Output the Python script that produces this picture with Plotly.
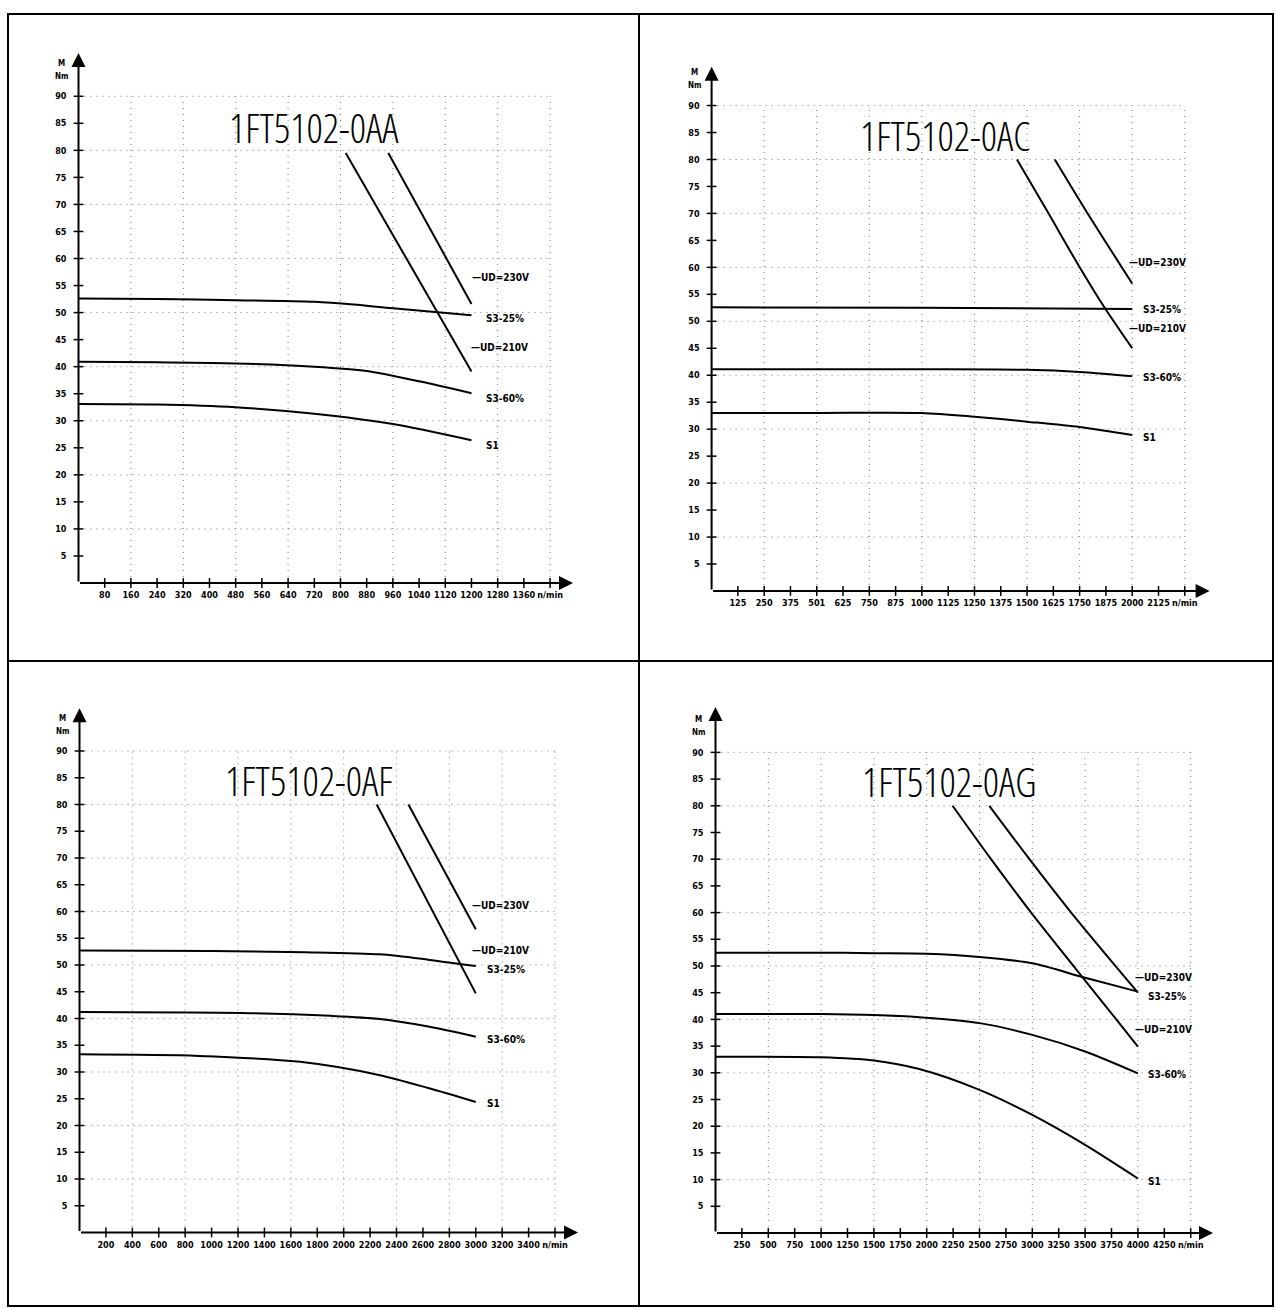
import plotly.graph_objects as go

FIG_W, FIG_H = 1277, 1309

# ---------------- shared tick labels ----------------
torque_ticks = [5, 10, 15, 20, 25, 30, 35, 40, 45, 50, 55, 60, 65, 70, 75, 80, 85, 90]
torque_grid = [10, 20, 30, 40, 50, 60, 70, 80, 90]

# ---------------- 1FT5102-0AA ----------------
aa_speed_ticks = [80, 160, 240, 320, 400, 480, 560, 640, 720, 800, 880, 960,
                  1040, 1120, 1200, 1280, 1360]
aa_speed_grid = [160, 320, 480, 640, 800, 960, 1120, 1280, 1440]
aa_s3_25_n = [0, 240, 480, 720, 840, 960, 1200]
aa_s3_25_m = [52.6, 52.5, 52.3, 52.0, 51.5, 50.8, 49.5]
aa_s3_60_n = [0, 240, 480, 720, 880, 1040, 1200]
aa_s3_60_m = [40.9, 40.8, 40.6, 40.0, 39.2, 37.3, 35.1]
aa_s1_n = [0, 240, 480, 720, 960, 1200]
aa_s1_m = [33.1, 33.0, 32.5, 31.3, 29.4, 26.4]
aa_ud230_n = [946, 1200]
aa_ud230_m = [79.5, 51.6]
aa_ud210_n = [816, 1200]
aa_ud210_m = [79.5, 39.1]

# ---------------- 1FT5102-0AC ----------------
ac_speed_ticks = [125, 250, 375, 500, 625, 750, 875, 1000, 1125, 1250, 1375,
                  1500, 1625, 1750, 1875, 2000, 2125]
ac_speed_labels = ["125", "250", "375", "501", "625", "750", "875", "1000", "1125",
                   "1250", "1375", "1500", "1625", "1750", "1875", "2000", "2125"]
ac_speed_grid = [250, 500, 750, 1000, 1250, 1500, 1750, 2000, 2250]
ac_s3_25_n = [0, 1000, 2000]
ac_s3_25_m = [52.6, 52.5, 52.3]
ac_s3_60_n = [0, 1000, 1500, 1750, 2000]
ac_s3_60_m = [41.1, 41.1, 41.0, 40.6, 39.8]
ac_s1_n = [0, 500, 1000, 1250, 1500, 1750, 2000]
ac_s1_m = [33.0, 33.0, 33.0, 32.3, 31.4, 30.4, 28.9]
ac_ud230_n = [1632, 1780, 2000]
ac_ud230_m = [80.0, 70.5, 57.0]
ac_ud210_n = [1452, 1599, 1746, 1869, 2000]
ac_ud210_m = [80.0, 70.2, 60.3, 52.5, 45.0]

# ---------------- 1FT5102-0AF ----------------
af_speed_ticks = [200, 400, 600, 800, 1000, 1200, 1400, 1600, 1800, 2000, 2200,
                  2400, 2600, 2800, 3000, 3200, 3400]
af_speed_grid = [400, 800, 1200, 1600, 2000, 2400, 2800, 3200, 3600]
af_s3_25_n = [0, 1000, 1700, 2275, 2640, 3000]
af_s3_25_m = [52.7, 52.6, 52.4, 52.0, 51.0, 49.8]
af_s3_60_n = [0, 1300, 1900, 2275, 2640, 3000]
af_s3_60_m = [41.2, 41.0, 40.5, 39.9, 38.5, 36.6]
af_s1_n = [0, 900, 1670, 2275, 2640, 3000]
af_s1_m = [33.3, 33.0, 31.9, 29.4, 27.0, 24.4]
af_ud230_n = [2490, 3000]
af_ud230_m = [80.0, 56.7]
af_ud210_n = [2250, 3000]
af_ud210_m = [80.0, 44.7]

# ---------------- 1FT5102-0AG ----------------
ag_speed_ticks = [250, 500, 750, 1000, 1250, 1500, 1750, 2000, 2250, 2500, 2750,
                  3000, 3250, 3500, 3750, 4000, 4250]
ag_speed_grid = [500, 1000, 1500, 2000, 2500, 3000, 3500, 4000, 4500]
ag_s3_25_n = [0, 1000, 1500, 2000, 2500, 3000, 3500, 4000]
ag_s3_25_m = [52.5, 52.5, 52.4, 52.3, 51.7, 50.5, 47.8, 45.2]
ag_s3_60_n = [0, 1000, 1500, 1929, 2500, 3000, 3500, 4000]
ag_s3_60_m = [41.0, 41.0, 40.8, 40.4, 39.3, 37.1, 34.0, 29.9]
ag_s1_n = [0, 1000, 1500, 1929, 2500, 3000, 3500, 4000]
ag_s1_m = [33.0, 32.9, 32.3, 30.7, 26.8, 22.1, 16.5, 10.2]
ag_ud230_n = [2593, 2973, 3368, 4000]
ag_ud230_m = [80.0, 70.0, 60.0, 45.0]
ag_ud210_n = [2245, 2609, 2989, 3795, 4000]
ag_ud210_m = [80.0, 70.0, 60.0, 40.0, 34.9]

curve_names = ["S3-25%", "S3-60%", "S1", "—UD=230V", "—UD=210V"]

panels = [
    dict(title="1FT5102-0AA",
         ticks=aa_speed_ticks, labels=[str(v) for v in aa_speed_ticks], nmin_tick=1440,
         grid=aa_speed_grid,
         curves=[(aa_s3_25_n, aa_s3_25_m), (aa_s3_60_n, aa_s3_60_m), (aa_s1_n, aa_s1_m),
                 (aa_ud230_n, aa_ud230_m), (aa_ud210_n, aa_ud210_m)],
         label_pos=[(1237, 49.0), (1237, 34.1), (1237, 25.5), (1196, 56.4), (1191, 43.5)],
         title_pos=(719, 84.3),
         box=dict(left=78.5, right=573, bottom=583, top=53), xmax=1510, ymax=98.0),
    dict(title="1FT5102-0AC",
         ticks=ac_speed_ticks, labels=ac_speed_labels, nmin_tick=2250,
         grid=ac_speed_grid,
         curves=[(ac_s3_25_n, ac_s3_25_m), (ac_s3_60_n, ac_s3_60_m), (ac_s1_n, ac_s1_m),
                 (ac_ud230_n, ac_ud230_m), (ac_ud210_n, ac_ud210_m)],
         label_pos=[(2041, 52.2), (2041, 39.5), (2041, 28.4), (1975, 60.9), (1975, 48.6)],
         title_pos=(1110, 84.5),
         box=dict(left=711.6, right=1209.6, bottom=591, top=66.7), xmax=2368, ymax=97.2),
    dict(title="1FT5102-0AF",
         ticks=af_speed_ticks, labels=[str(v) for v in af_speed_ticks], nmin_tick=3600,
         grid=af_speed_grid,
         curves=[(af_s3_25_n, af_s3_25_m), (af_s3_60_n, af_s3_60_m), (af_s1_n, af_s1_m),
                 (af_ud230_n, af_ud230_m), (af_ud210_n, af_ud210_m)],
         label_pos=[(3070, 49.2), (3070, 36.0), (3070, 24.2), (2956, 61.2), (2956, 52.7)],
         title_pos=(1737, 84.4),
         box=dict(left=79.5, right=578, bottom=1232.5, top=708.2), xmax=3774, ymax=98.0),
    dict(title="1FT5102-0AG",
         ticks=ag_speed_ticks, labels=[str(v) for v in ag_speed_ticks], nmin_tick=4500,
         grid=ag_speed_grid,
         curves=[(ag_s3_25_n, ag_s3_25_m), (ag_s3_60_n, ag_s3_60_m), (ag_s1_n, ag_s1_m),
                 (ag_ud230_n, ag_ud230_m), (ag_ud210_n, ag_ud210_m)],
         label_pos=[(4079, 44.3), (4079, 29.6), (4079, 9.6), (3953, 47.9), (3953, 38.1)],
         title_pos=(2211, 84.5),
         box=dict(left=715.5, right=1213, bottom=1233, top=707), xmax=4711, ymax=98.5),
]

CONDENSED = "'DejaVu Sans Condensed', 'DejaVu Sans', sans-serif"
BOLD_SMALL = dict(family=CONDENSED, size=9, color="black", weight=700)
LABEL_FONT = dict(family=CONDENSED, size=10, color="black", weight=700)
TITLE_FONT = dict(family="'Open Sans', sans-serif", size=40, color="black", weight=300)

fig = go.Figure()
layout = dict(width=FIG_W, height=FIG_H, margin=dict(l=0, r=0, t=0, b=0),
              paper_bgcolor="white", plot_bgcolor="rgba(0,0,0,0)",
              showlegend=False)
shapes = []
annotations = []

for i, p in enumerate(panels, start=1):
    xa = "x" if i == 1 else f"x{i}"
    ya = "y" if i == 1 else f"y{i}"
    xkey = "xaxis" if i == 1 else f"xaxis{i}"
    ykey = "yaxis" if i == 1 else f"yaxis{i}"
    b = p["box"]
    layout[xkey] = dict(
        domain=[b["left"] / FIG_W, b["right"] / FIG_W], range=[0, p["xmax"]],
        anchor=ya, showgrid=False, zeroline=False, showline=False,
        tickmode="array", tickvals=p["ticks"] + [p["nmin_tick"]],
        ticktext=p["labels"] + ["n/min"], ticks="", tickangle=0,
        ticklabelstandoff=5, tickfont=BOLD_SMALL, fixedrange=True)
    layout[ykey] = dict(
        domain=[1 - b["bottom"] / FIG_H, 1 - b["top"] / FIG_H], range=[0, p["ymax"]],
        anchor=xa, showgrid=False, zeroline=False, showline=False,
        tickmode="array", tickvals=torque_ticks,
        ticktext=[str(v) for v in torque_ticks], ticks="",
        ticklabelstandoff=11, tickfont=BOLD_SMALL, fixedrange=True)

    # dotted grid
    grid_end = p["grid"][-1]
    grid_line = dict(color="#7a7a7a", width=1, dash="1px,5px")
    for gx in p["grid"]:
        shapes.append(dict(type="line", xref=xa, yref=ya, x0=gx, x1=gx, y0=0, y1=90,
                           layer="below", line=grid_line))
    for gy in torque_grid:
        shapes.append(dict(type="line", xref=xa, yref=ya, x0=0, x1=grid_end, y0=gy, y1=gy,
                           layer="below", line=grid_line))

    # characteristic curves
    for k, (n, m) in enumerate(p["curves"]):
        fig.add_trace(go.Scatter(
            x=n, y=m, mode="lines", xaxis=xa, yaxis=ya, hoverinfo="skip",
            line=dict(color="black", width=2, shape="spline", smoothing=0.8)))
        lx, ly = p["label_pos"][k]
        annotations.append(dict(x=lx, y=ly, xref=xa, yref=ya, text=curve_names[k],
                                showarrow=False, xanchor="left", yanchor="middle",
                                font=LABEL_FONT))

    # tick crosses on both axes
    xt = p["ticks"] + [p["nmin_tick"]]
    fig.add_trace(go.Scatter(
        x=xt, y=[0] * len(xt), mode="markers", xaxis=xa, yaxis=ya, hoverinfo="skip",
        cliponaxis=False,
        marker=dict(symbol="line-ns", size=7, color="black",
                    line=dict(width=1.5, color="black"))))
    fig.add_trace(go.Scatter(
        x=[0] * len(torque_ticks), y=torque_ticks, mode="markers", xaxis=xa, yaxis=ya,
        hoverinfo="skip", cliponaxis=False,
        marker=dict(symbol="line-ew", size=7, color="black",
                    line=dict(width=1.5, color="black"))))

    # axes drawn as arrows
    for tip in ((p["xmax"], 0), (0, p["ymax"])):
        annotations.append(dict(x=tip[0], y=tip[1], ax=0, ay=0, xref=xa, yref=ya,
                                axref=xa, ayref=ya, text="", showarrow=True,
                                arrowhead=2, arrowsize=1.4, arrowwidth=2,
                                arrowcolor="black", standoff=0, startstandoff=0))

    # torque unit as a fraction M / Nm
    unit_font = dict(family=CONDENSED, size=8, color="black", weight=700)
    annotations.append(dict(x=0, y=90, xref=xa, yref=ya, text="M", showarrow=False,
                            xshift=-17, yshift=33, font=unit_font))
    annotations.append(dict(x=0, y=90, xref=xa, yref=ya, text="Nm", showarrow=False,
                            xshift=-17, yshift=20, font=unit_font))
    shapes.append(dict(type="line", xref=xa, yref=ya, xsizemode="pixel", ysizemode="pixel",
                       xanchor=0, yanchor=90, x0=-23, x1=-11, y0=27, y1=27,
                       line=dict(color="black", width=1)))

    # motor type title in a thin condensed face
    tx, ty = p["title_pos"]
    annotations.append(dict(x=tx, y=ty, xref=xa, yref=ya,
                            text=f'<span style="font-stretch:condensed">{p["title"]}</span>',
                            showarrow=False, xanchor="center", yanchor="middle",
                            font=TITLE_FONT))

# sheet frame and quadrant dividers
def fx(px):
    return px / FIG_W


def fy(py):
    return 1 - py / FIG_H


frame = dict(color="black", width=2)
shapes.append(dict(type="rect", xref="paper", yref="paper",
                   x0=fx(8), x1=fx(1273), y0=fy(1306), y1=fy(14), line=frame))
shapes.append(dict(type="line", xref="paper", yref="paper",
                   x0=fx(639), x1=fx(639), y0=fy(1306), y1=fy(14), line=frame))
shapes.append(dict(type="line", xref="paper", yref="paper",
                   x0=fx(8), x1=fx(1273), y0=fy(661), y1=fy(661), line=frame))

layout["shapes"] = shapes
layout["annotations"] = annotations
fig.update_layout(**layout)
fig.update_traces(showlegend=False)

fig.write_html("out.html")
